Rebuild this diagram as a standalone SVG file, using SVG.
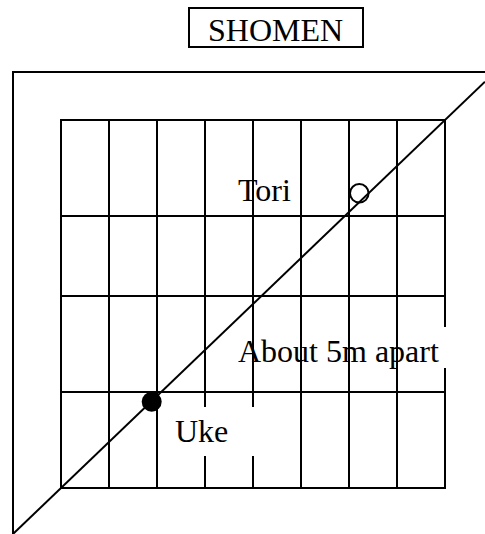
<svg xmlns="http://www.w3.org/2000/svg" width="485" height="534" viewBox="0 0 485 534">
<style>
.ln{stroke:#000;stroke-width:2;fill:none}
.t{font-family:"Liberation Serif","Times New Roman",serif;font-size:32px;fill:#000}
.bg{fill:#fff;stroke:none}
</style>
<rect width="485" height="534" fill="#fff"/>
<g id="shomen">
<rect class="ln" x="189" y="8" width="174" height="39"/>
<text class="t" x="208" y="41">SHOMEN</text>
</g>
<g id="frame">
<polyline class="ln" points="485,72 13,72 13,534"/>
</g>
<g id="grid">
<rect class="ln" x="61" y="120" width="384" height="368"/>
<path class="ln" d="M109,120V488M157,120V488M205,120V488M253,120V488M301,120V488M349,120V488M397,120V488M61,216H445M61,296H445M61,392H445"/>
</g>
<g id="connectors">
<line class="ln" x1="13" y1="534" x2="485" y2="81.7"/>
</g>
<g id="tori">
<circle cx="359.3" cy="193.3" r="9.3" fill="none" stroke="#000" stroke-width="2"/>
<text class="t" x="238" y="201">Tori</text>
</g>
<g id="uke">
<circle cx="151.7" cy="401.7" r="10" fill="#000"/>
<rect class="bg" x="170" y="407" width="90" height="49"/>
<text class="t" x="175" y="442">Uke</text>
</g>
<g id="distance">
<rect class="bg" x="441" y="327" width="10" height="41"/>
<text class="t" x="238" y="362">About 5m apart</text>
</g>
</svg>
